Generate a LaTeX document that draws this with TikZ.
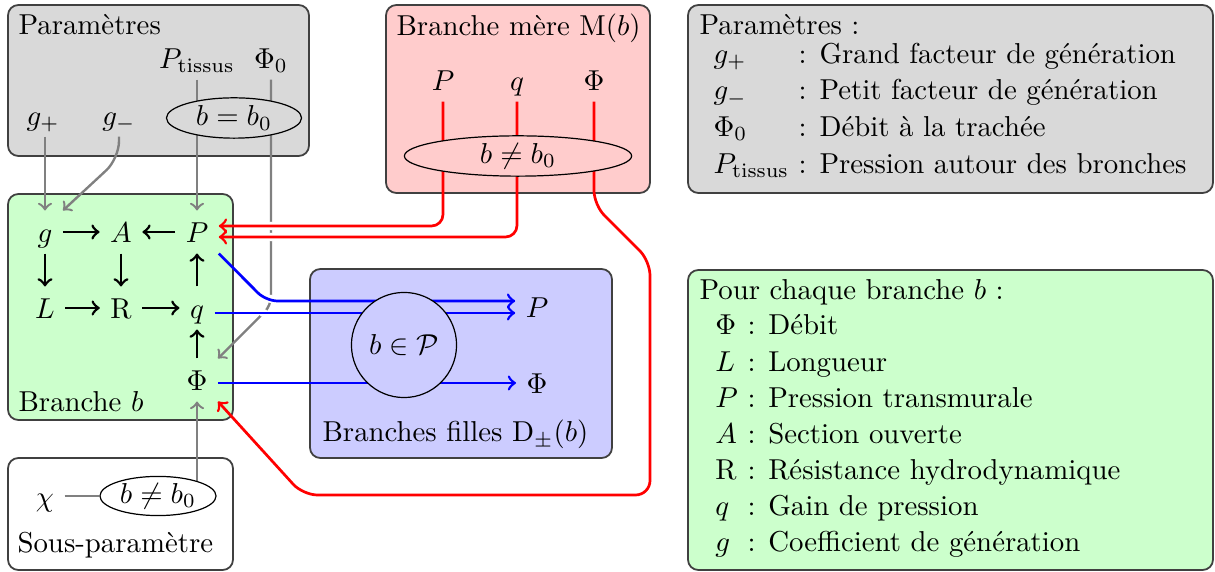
\documentclass[tikz,border=0pt]{standalone}
\usetikzlibrary{shapes.geometric,calc}
\pgfdeclarelayer{background}
\pgfdeclarelayer{foreground}
\pgfsetlayers{background,main,foreground}
\definecolor{boxgray}{HTML}{D9D9D9}
\definecolor{boxpink}{HTML}{FFCCCC}
\definecolor{boxgreen}{HTML}{CCFFCC}
\definecolor{boxblue}{HTML}{CCCCFF}
\tikzset{
  var/.style={text height=7.29pt, text depth=0.31pt, inner sep=3.47pt},
  container/.style={draw=black!75, line width=0.62pt, rounded corners=3.6pt},
  graylink/.style={draw=gray, line width=0.83pt},
  redlink/.style={draw=red, line width=0.94pt},
  bluelink/.style={draw=blue, line width=0.94pt},
  blacklink/.style={draw=black, line width=0.94pt},
  ell/.style={ellipse, draw=black, line width=0.42pt, minimum height=14pt, inner sep=0pt},
  gap/.style={fill=white, draw=none},
  lbl/.style={anchor=base west, inner sep=0pt},
}
\begin{document}
\begin{tikzpicture}[x=0.34722pt, y=-0.34722pt]
\useasboundingbox (0,0) rectangle (1215,572);

% ---- containers
\begin{pgfonlayer}{background}
\path[container, fill=boxgray]  (8,5) rectangle (309,156);
\path[container, fill=boxgreen] (8,194) rectangle (233,420);
\path[container, fill=boxpink]  (386,5) rectangle (650,193);
\path[container, fill=boxblue]  (310,269) rectangle (612,458);
\path[container, fill=white]    (8,458) rectangle (233,570);
\path[container, fill=boxgray]  (688,5) rectangle (1213,193);
\path[container, fill=boxgreen] (688,270) rectangle (1213,570);
\end{pgfonlayer}

% ---- container labels
\node[lbl] (lparam) at (18,35) {Paramètres};
\node[lbl] (lmere) at (396,36) {Branche mère $\mathrm{M}(b)$};
\node[lbl] (lbranche) at (18,412) {Branche $b$};
\node[lbl] (lfilles) at (322,442) {Branches filles $\mathrm{D}_{\pm}(b)$};
\node[lbl] (lsous) at (17,553) {Sous-paramètre};

% ---- parameters
\node[var] (Pt) at (197,58) {$P_{\mathrm{tissus}}$};
\node[var] (Phi0) at (271,58) {$\Phi_0$};
\node[var] (gp) at (43,115) {$g_+$};
\node[var] (gm) at (119,115) {$g_-$};

% ---- branche b
\node[var] (g) at (45,232) {$g$};
\node[var] (A) at (121,232) {$A$};
\node[var] (P) at (197,232) {$P$};
\node[var] (L) at (45,308) {$L$};
\node[var] (R) at (121,308) {$\mathrm{R}$};
\node[var] (q) at (197,308) {$q$};
\node[var] (Phi) at (197,380) {$\Phi$};

% ---- branche mere
\node[var] (Pm) at (443,80) {$P$};
\node[var] (qm) at (517,80) {$q$};
\node[var] (Phim) at (594,80) {$\Phi$};

% ---- branches filles
\node[var] (Pf) at (537,307) {$P$};
\node[var] (Phif) at (537,383) {$\Phi$};

% ---- sous-parametre
\node[var] (chi) at (45,496) {$\chi$};

% ---- ellipses and circle
\begin{pgfonlayer}{foreground}
\node[ell, fill=boxgray, minimum width=46.9pt] (e0) at (234,118) {$b = b_0$};
\node[ell, fill=boxpink, minimum width=78.9pt] (em) at (518,156) {$b \neq b_0$};
\node[ell, fill=white, minimum width=40.3pt, minimum height=13.6pt] (es) at (158,496) {$b \neq b_0$};
\node[circle, draw=black, line width=0.42pt, fill=boxblue, minimum size=36.5pt, inner sep=0pt] (cf) at (404,345) {$b \in \mathcal{P}$};
\end{pgfonlayer}

% ---- black arrows inside branche b
\draw[blacklink,->] (g) -- (A);
\draw[blacklink,->] (P) -- (A);
\draw[blacklink,->] (g) -- (L);
\draw[blacklink,->] (A) -- (R);
\draw[blacklink,->] (L) -- (R);
\draw[blacklink,->] (R) -- (q);
\draw[blacklink,->] (q) -- (P);
\draw[blacklink,->] (Phi) -- (q);

% ---- gray connectors
\draw[graylink,->] (g.north |- gp.south) -- (g.north);
\draw[graylink,->,rounded corners=6pt] (gm.south) -- ++(0,22) -- (g.north east);
\draw[graylink,->] (P.north |- Pt.south) -- (P.north);
\draw[graylink,->,rounded corners=3pt] (Phi0.south) -- ++(0,226) -- (Phi.north east);
\draw[graylink] (chi.east) -- (es.west);
\draw[graylink,->] (es.center -| Phi.south) -- (Phi.south);

% ---- gaps where coloured lines cross the gray line
\fill[gap] (271,226) circle (1.5pt);
\fill[gap] (271,237) circle (1.5pt);
\fill[gap] (271,299) circle (1.5pt);
\fill[gap] (263.5,313) circle (1.5pt);

% ---- red connectors
\draw[redlink,->,rounded corners=4pt] (Pm.south) |- ($(P.east)+(0,-6)$);
\draw[redlink,->,rounded corners=4pt] (qm.south) |- ($(P.east)+(0,5)$);
\draw[redlink,->,rounded corners=5pt] (Phim.south) -- (594,205) -- (650,261) -- (650,495) -- (303,495) -- (Phi.south east);

% ---- blue connectors
\draw[bluelink,->,rounded corners=4pt] (P.south east) -- (266,301) -- ($(Pf.west)+(0,-6)$);
\draw[bluelink,->] ($(q.east)+(0,5)$) -- ($(Pf.west)+(0,6)$);
\draw[bluelink,->] ($(Phi.east)+(0,3)$) -- (Phif.west);

% ---- legends
\node[anchor=base west, inner sep=0pt] (leg1) at (699,35) {%
\renewcommand{\arraystretch}{1.062}%
\begin{tabular}[t]{@{\hspace{4.86pt}}l@{\ }l@{}}
\multicolumn{2}{@{}l}{Paramètres :}\\[-3pt]
$g_+$ & : Grand facteur de génération\\
$g_-$ & : Petit facteur de génération\\
$\Phi_0$ & : Débit à la trachée\\
$P_{\mathrm{tissus}}$ & : Pression autour des bronches
\end{tabular}};
\node[anchor=base west, inner sep=0pt] (leg2) at (699,300) {%
\renewcommand{\arraystretch}{1.042}%
\begin{tabular}[t]{@{\hspace{5.5pt}}l@{\ }l@{}}
\multicolumn{2}{@{}l}{Pour chaque branche $b$ :}\\[-0.35pt]
$\Phi$ & : Débit\\
$L$ & : Longueur\\
$P$ & : Pression transmurale\\
$A$ & : Section ouverte\\
$\mathrm{R}$ & : Résistance hydrodynamique\\
$q$ & : Gain de pression\\
$g$ & : Coefficient de génération
\end{tabular}};
\end{tikzpicture}
\end{document}
